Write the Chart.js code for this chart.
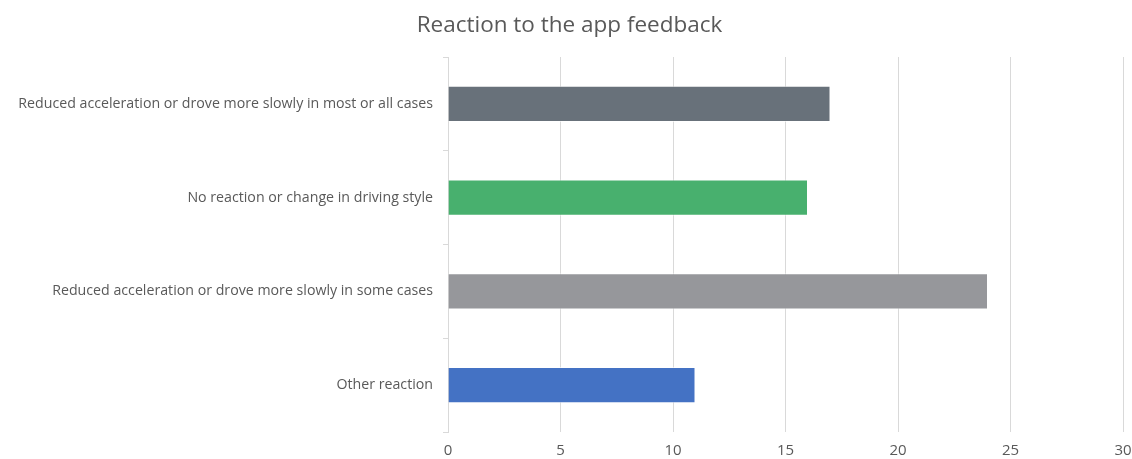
<!DOCTYPE html>
<html>
<head>
<meta charset="utf-8">
<script src="https://cdn.jsdelivr.net/npm/chart.js@4"></script>
<style>
  html, body { margin: 0; padding: 0; background: #fff; }
  canvas { display: block; }
</style>
</head>
<body>
<canvas id="chart" width="1132" height="459"></canvas>
<script>
// Survey answers, top to bottom
const categories = [
  "Reduced acceleration or drove more slowly in most or all cases",
  "No reaction or change in driving style",
  "Reduced acceleration or drove more slowly in some cases",
  "Other reaction"
];
const responses = [17, 16, 24, 11];
const barColors = ["#68717a", "#48b06e", "#96979b", "#4472c4"];
const xTicks = [0, 5, 10, 15, 20, 25, 30];

const textColor = "#595959";
const gridColor = "#d9d9d9";
const fontFamily = "'Open Sans', sans-serif";

const ctx = document.getElementById("chart").getContext("2d");

const chart = new Chart(ctx, {
  type: "bar",
  data: {
    labels: categories,
    datasets: [{
      data: responses,
      backgroundColor: barColors,
      borderColor: "rgba(255,255,255,0.6)",
      borderWidth: 1,
      barPercentage: 0.385,
      categoryPercentage: 1
    }]
  },
  options: {
    indexAxis: "y",
    responsive: false,
    animation: false,
    layout: { padding: { left: 16, right: 9, top: 12, bottom: 0 } },
    plugins: {
      legend: { display: false },
      tooltip: { enabled: false },
      title: {
        display: true,
        text: "Reaction to the app feedback",
        color: textColor,
        font: { family: fontFamily, size: 22.5, weight: "normal" },
        padding: { top: 0, bottom: 18 }
      }
    },
    scales: {
      x: {
        min: 0,
        max: 30,
        afterBuildTicks: (scale) => {
          scale.ticks = xTicks.map((v) => ({ value: v }));
        },
        // fixed band under the plot, no extra room for the edge labels
        afterFit: (scale) => {
          scale.height = 27;
          scale.paddingLeft = 0;
          scale.paddingRight = 0;
        },
        grid: { color: gridColor, drawTicks: false },
        border: { display: false },
        ticks: {
          color: textColor,
          padding: 10,
          maxRotation: 0,
          font: { family: fontFamily, size: 15 }
        }
      },
      y: {
        afterFit: (scale) => {
          scale.width = 432;
          scale.paddingTop = 0;
          scale.paddingBottom = 0;
        },
        grid: {
          drawOnChartArea: false,
          drawTicks: true,
          tickLength: 5,
          color: gridColor
        },
        border: { display: true, color: gridColor },
        ticks: {
          color: textColor,
          padding: 10,
          font: { family: fontFamily, size: 14.2 }
        }
      }
    }
  }
});
</script>
</body>
</html>
